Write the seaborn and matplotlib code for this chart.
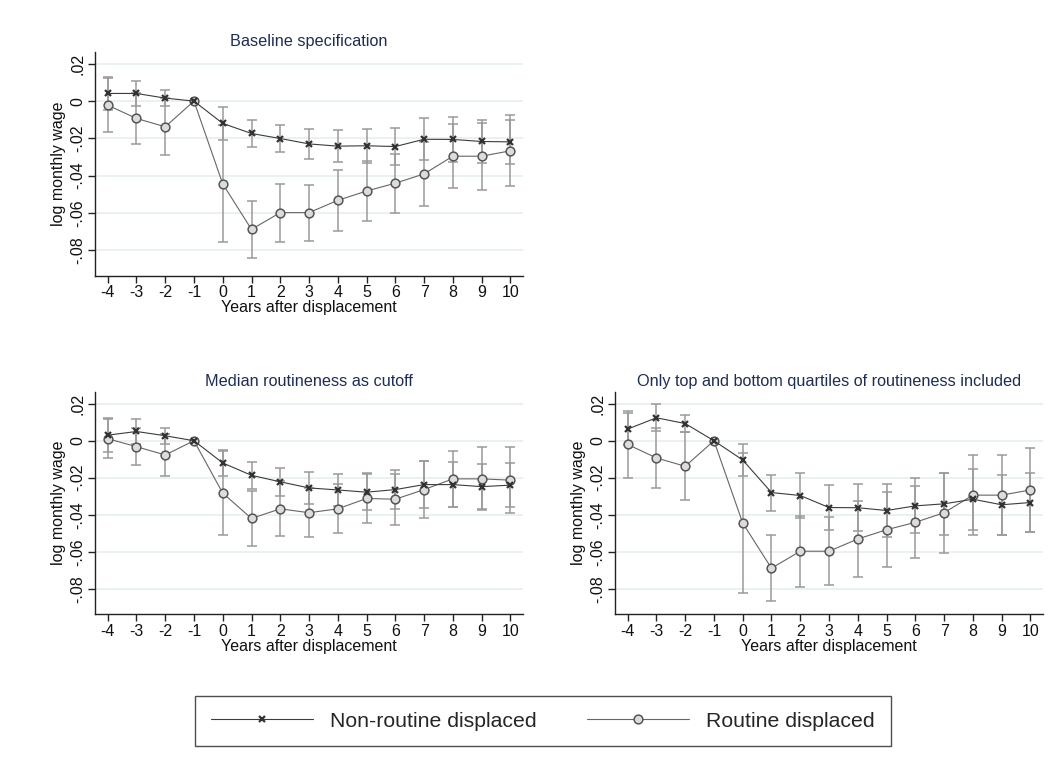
import numpy as np
import pandas as pd
import matplotlib
matplotlib.use("Agg")
import matplotlib.pyplot as plt
from matplotlib.lines import Line2D
import seaborn as sns

# event time
years = [-4, -3, -2, -1, 0, 1, 2, 3, 4, 5, 6, 7, 8, 9, 10]

# baseline specification: estimates and 95% CI half widths
base_nr = [0.0041, 0.0041, 0.0016, 0.0, -0.0120, -0.0174, -0.0201, -0.0230,
           -0.0242, -0.0240, -0.0244, -0.0205, -0.0206, -0.0217, -0.0219]
base_nr_ci = [0.0088, 0.0065, 0.0045, 0.0, 0.0088, 0.0070, 0.0074, 0.0079,
              0.0086, 0.0090, 0.0100, 0.0113, 0.0120, 0.0118, 0.0118]
base_r = [-0.0022, -0.0093, -0.0138, 0.0, -0.0445, -0.0689, -0.0599, -0.0599,
          -0.0533, -0.0483, -0.0441, -0.0391, -0.0296, -0.0296, -0.0267]
base_r_ci = [0.0145, 0.0135, 0.0152, 0.0, 0.0314, 0.0154, 0.0156, 0.0151,
             0.0165, 0.0161, 0.0158, 0.0172, 0.0172, 0.0179, 0.0190]

# median routineness as cutoff
med_nr = [0.0030, 0.0050, 0.0027, 0.0, -0.0120, -0.0187, -0.0222, -0.0255,
          -0.0266, -0.0278, -0.0264, -0.0237, -0.0237, -0.0248, -0.0240]
med_nr_ci = [0.0093, 0.0068, 0.0043, 0.0, 0.0072, 0.0072, 0.0077, 0.0086,
             0.0086, 0.0097, 0.0104, 0.0126, 0.0122, 0.0122, 0.0117]
med_r = [0.0011, -0.0032, -0.0077, 0.0, -0.0283, -0.0420, -0.0368, -0.0389,
         -0.0368, -0.0312, -0.0316, -0.0264, -0.0206, -0.0206, -0.0213]
med_r_ci = [0.0106, 0.0100, 0.0113, 0.0, 0.0228, 0.0149, 0.0149, 0.0131,
            0.0133, 0.0135, 0.0138, 0.0154, 0.0152, 0.0170, 0.0178]

# only top and bottom quartiles
quart_nr = [0.0063, 0.0124, 0.0093, 0.0, -0.0104, -0.0280, -0.0296, -0.0361,
            -0.0362, -0.0377, -0.0352, -0.0341, -0.0316, -0.0346, -0.0334]
quart_nr_ci = [0.0088, 0.0074, 0.0048, 0.0, 0.0088, 0.0097, 0.0120, 0.0122,
               0.0127, 0.0142, 0.0149, 0.0169, 0.0165, 0.0163, 0.0158]
quart_r = [-0.0020, -0.0093, -0.0138, 0.0, -0.0445, -0.0689, -0.0597, -0.0597,
           -0.0531, -0.0481, -0.0441, -0.0389, -0.0294, -0.0294, -0.0266]
quart_r_ci = [0.0179, 0.0161, 0.0183, 0.0, 0.0377, 0.0178, 0.0192, 0.0183,
              0.0206, 0.0203, 0.0194, 0.0215, 0.0215, 0.0217, 0.0226]

yticks = [0.02, 0, -0.02, -0.04, -0.06, -0.08]
ytick_labels = ['.02', '0', '-.02', '-.04', '-.06', '-.08']

sns.set_theme(style='white')
plt.rcParams['font.family'] = ['Liberation Sans', 'DejaVu Sans']

nr_color = '#3c3c3c'
r_color = '#666666'
ci_color = '#9a9a9a'
title_color = '#1e2d53'
grid_color = '#e8f0f2'

nr_marker = dict(marker='x', markersize=4.2, markeredgewidth=1.6,
                 markeredgecolor='#333333')
r_marker = dict(marker='o', markersize=6.3, markerfacecolor='#dcdcdc',
                markeredgecolor='#555555', markeredgewidth=1.1)


def panel(ax, title, nr, nr_ci, r, r_ci):
    df = pd.DataFrame({'year': years * 2,
                       'coef': nr + r,
                       'ci': nr_ci + r_ci,
                       'group': ['Non-routine displaced'] * len(years)
                                + ['Routine displaced'] * len(years)})
    for g in ['Non-routine displaced', 'Routine displaced']:
        sub = df[(df.group == g) & (df.ci > 0)]
        ax.errorbar(sub.year, sub.coef, yerr=sub.ci, fmt='none',
                    ecolor=ci_color, elinewidth=1.1, capsize=3.5,
                    capthick=1.1, zorder=2)
    sns.lineplot(data=df[df.group == 'Non-routine displaced'], x='year',
                 y='coef', ax=ax, color=nr_color, lw=0.8, zorder=4,
                 **nr_marker)
    sns.lineplot(data=df[df.group == 'Routine displaced'], x='year',
                 y='coef', ax=ax, color=r_color, lw=0.8, zorder=3,
                 **r_marker)
    ax.set_xlim(-4.44, 10.44)
    ax.set_ylim(-0.0938, 0.0265)
    ax.set_xticks(years)
    ax.set_xticklabels([str(y) for y in years], fontsize=11.5)
    ax.set_yticks(yticks)
    ax.set_yticklabels(ytick_labels, fontsize=11.5, rotation=90, va='center')
    ax.yaxis.grid(True, color=grid_color, lw=1.3)
    ax.set_axisbelow(True)
    for s in ['top', 'right']:
        ax.spines[s].set_visible(False)
    for s in ['left', 'bottom']:
        ax.spines[s].set_color('#222222')
        ax.spines[s].set_linewidth(1.0)
    ax.tick_params(axis='both', direction='out', length=5, width=1.0,
                   color='#222222', left=True, bottom=True, pad=2,
                   labelcolor='#111111')
    ax.set_xlabel('Years after displacement', fontsize=11.5, labelpad=0,
                  color='#111111')
    ax.set_ylabel('log monthly wage', fontsize=11.5, labelpad=3,
                  color='#111111')
    ax.set_title(title, fontsize=11.7, color=title_color, pad=4)


fig = plt.figure(figsize=(10.64, 7.6), dpi=100)
ax1 = fig.add_axes([0.0893, 0.6372, 0.4023, 0.2947])
ax2 = fig.add_axes([0.0893, 0.1917, 0.4023, 0.2929])
ax3 = fig.add_axes([0.578, 0.1917, 0.4023, 0.2929])

panel(ax1, 'Baseline specification', base_nr, base_nr_ci, base_r, base_r_ci)
panel(ax2, 'Median routineness as cutoff', med_nr, med_nr_ci, med_r, med_r_ci)
panel(ax3, 'Only top and bottom quartiles of routineness included',
      quart_nr, quart_nr_ci, quart_r, quart_r_ci)

handles = [Line2D([], [], color=nr_color, lw=0.8, **nr_marker),
           Line2D([], [], color=r_color, lw=0.8, **r_marker)]
leg = fig.legend(handles, ['Non-routine displaced', 'Routine displaced'],
                 loc='center', bbox_to_anchor=(0.510, 0.0513), ncol=2,
                 fontsize=15.3, frameon=True, fancybox=False, handlelength=4.8,
                 columnspacing=2.4, handletextpad=0.8, borderpad=0.75,
                 borderaxespad=0)
leg.get_frame().set_edgecolor('#222222')
leg.get_frame().set_linewidth(1.0)

fig.savefig('out.png', dpi=100, facecolor='white')
